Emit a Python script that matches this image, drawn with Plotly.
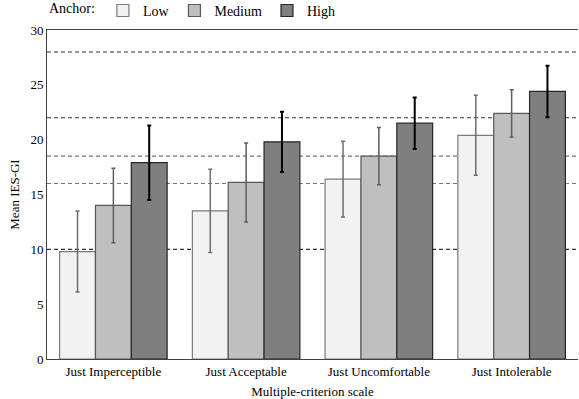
import plotly.graph_objects as go

categories = ["Just Imperceptible", "Just Acceptable", "Just Uncomfortable", "Just Intolerable"]
low_mean = [9.8, 13.5, 16.4, 20.4]
low_err = [3.7, 3.8, 3.45, 3.65]
med_mean = [14.0, 16.1, 18.5, 22.4]
med_err = [3.4, 3.6, 2.6, 2.15]
high_mean = [17.9, 19.8, 21.5, 24.4]
high_err = [3.4, 2.75, 2.35, 2.35]
ref_lines = [28, 22, 18.5, 16, 10]
ref_colors = ["#333333", "#333333", "#7a7a7a", "#7a7a7a", "#333333"]
y_ticks = [0, 5, 10, 15, 20, 25, 30]

font_family = "Times New Roman, Liberation Serif, DejaVu Serif, serif"

fig = go.Figure()
series = [
    ("Low", low_mean, low_err, "#f2f2f2", "#7a7a7a", "#6e6e6e", 1.5),
    ("Medium", med_mean, med_err, "#bfbfbf", "#595959", "#5e5e5e", 1.5),
    ("High", high_mean, high_err, "#7f7f7f", "#262626", "#000000", 2),
]
for name, vals, errs, fill, outline, ecolor, eth in series:
    fig.add_trace(go.Bar(
        name=name, x=categories, y=vals,
        marker=dict(color=fill, line=dict(color=outline, width=1.2)),
        error_y=dict(type="data", array=errs, visible=True, color=ecolor,
                     thickness=eth, width=2),
    ))

for v, c in zip(ref_lines, ref_colors):
    fig.add_shape(type="line", xref="paper", x0=0, x1=1, yref="y", y0=v, y1=v,
                  line=dict(color=c, width=1.1, dash="4px,3px"), layer="below")

fig.update_layout(
    width=579, height=399,
    margin=dict(l=47, r=1, t=30, b=40, autoexpand=False),
    paper_bgcolor="white", plot_bgcolor="white",
    barmode="group", bargap=0.19, bargroupgap=0,
    font=dict(family=font_family, size=13, color="#000000"),
    legend=dict(orientation="h", x=0.0, xanchor="left",
                yref="paper", y=1.058, yanchor="middle", valign="middle",
                bgcolor="rgba(0,0,0,0)",
                title=dict(text="Anchor:", font=dict(size=14), side="left"),
                font=dict(size=14), itemwidth=30, traceorder="normal",
                tracegroupgap=0, itemclick=False),
    showlegend=True,
)
fig.update_xaxes(
    title=dict(text="Multiple-criterion scale", font=dict(size=13), standoff=9),
    showline=True, linecolor="#404040", linewidth=1, mirror=True,
    ticks="", showgrid=False, tickfont=dict(size=13),
)
fig.update_yaxes(
    title=dict(text="Mean IES-GI", font=dict(size=13), standoff=7),
    range=[0, 30], tickvals=y_ticks, showline=True, linecolor="#404040",
    linewidth=1, ticks="", showgrid=False, zeroline=False, tickfont=dict(size=13),
)

fig.write_html("out.html", config={"displayModeBar": False},
               post_script="document.body.style.margin='0';")
